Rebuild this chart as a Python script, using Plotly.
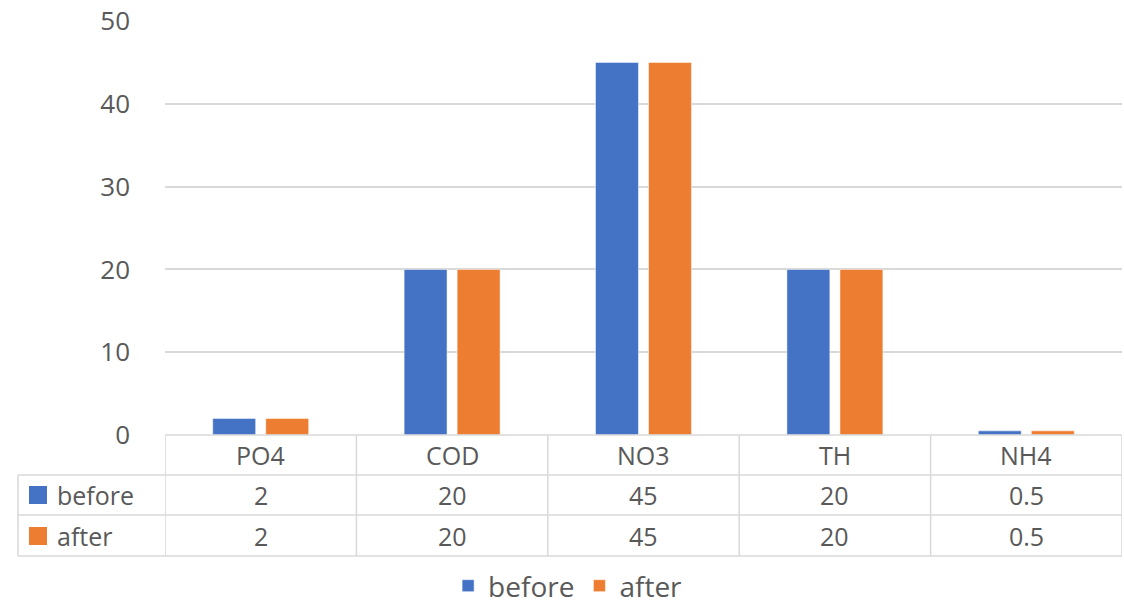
import plotly.graph_objects as go

categories = ["PO4", "COD", "NO3", "TH", "NH4"]
before = [2, 20, 45, 20, 0.5]
after = [2, 20, 45, 20, 0.5]
series_names = ["before", "after"]
y_ticks = [0, 10, 20, 30, 40, 50]

W, H = 1124, 606
L, R, T, B = 165, 1122, 21, 435  # plot area in pixels
BLUE = "#4472C4"
ORANGE = "#ED7D31"
TXT = "#595959"
GRID = "#D9D9D9"
FONT = "Open Sans"

def py(p):  # pixel y -> paper y
    return (B - p) / (B - T)

def px(p):  # pixel x -> paper x
    return (p - L) / (R - L)

fig = go.Figure()
fig.add_trace(go.Bar(x=categories, y=before, name=series_names[0],
                     marker=dict(color=BLUE, line=dict(color="white", width=0.5))))
fig.add_trace(go.Bar(x=categories, y=after, name=series_names[1],
                     marker=dict(color=ORANGE, line=dict(color="white", width=0.5))))

rows_y = [455, 495, 536]  # header, before, after centers (pixels)
row_lines = [475, 515, 556]

shapes = []
shapes.append(dict(type="line", xref="paper", yref="paper", x0=0, x1=1, y0=0, y1=0,
                   line=dict(color=GRID, width=1.5)))
for ry in row_lines:
    shapes.append(dict(type="line", xref="paper", yref="paper", x0=px(18), x1=1,
                       y0=py(ry), y1=py(ry), line=dict(color=GRID, width=1.5)))
n = len(categories)
for i in range(n + 1):
    shapes.append(dict(type="line", xref="x", yref="paper", x0=i - 0.5, x1=i - 0.5,
                       y0=0, y1=py(556), line=dict(color=GRID, width=1.5)))
shapes.append(dict(type="line", xref="paper", yref="paper", x0=px(18), x1=px(18),
                   y0=py(475), y1=py(556), line=dict(color=GRID, width=1.5)))
for ry, col in zip(rows_y[1:], [BLUE, ORANGE]):
    shapes.append(dict(type="rect", xref="paper", yref="paper", x0=px(29), x1=px(47),
                       y0=py(ry + 9), y1=py(ry - 9), fillcolor=col, line=dict(width=0)))

annotations = []
def ann(x, y, text, xref="x", xanchor="center"):
    annotations.append(dict(x=x, y=y, xref=xref, yref="paper", text=text,
                            xanchor=xanchor, yanchor="middle", showarrow=False,
                            font=dict(family=FONT, size=25, color=TXT)))

for i, c in enumerate(categories):
    ann(c, py(rows_y[0]), c)
    ann(c, py(rows_y[1]), str(before[i]))
    ann(c, py(rows_y[2]), str(after[i]))
for ry, nm in zip(rows_y[1:], series_names):
    ann(px(55), py(ry), nm, xref="paper", xanchor="left")

fig.update_layout(
    width=W, height=H,
    margin=dict(l=L, r=W - R, t=T, b=H - B, pad=0, autoexpand=False),
    paper_bgcolor="white", plot_bgcolor="white",
    barmode="group", bargap=0.446, bargroupgap=0.19,
    font=dict(family=FONT, color=TXT),
    xaxis=dict(showticklabels=False, showgrid=False, zeroline=False, showline=False,
               range=[-0.5, n - 0.5], fixedrange=True),
    yaxis=dict(range=[0, 50], tickvals=y_ticks, showgrid=True, gridcolor=GRID, gridwidth=1.5,
               zeroline=False, showline=False, ticks="", ticklabelstandoff=34,
               tickfont=dict(family=FONT, size=26, color=TXT), fixedrange=True),
    legend=dict(orientation="h", xref="container", yref="container", x=0.505, y=1 - 586 / H,
                xanchor="center", yanchor="middle", font=dict(family=FONT, size=28, color=TXT),
                itemwidth=30, traceorder="normal", tracegroupgap=0),
    shapes=shapes, annotations=annotations,
)

fig.write_html("out.html", config={"displayModeBar": False},
               post_script="document.body.style.margin='0';document.body.style.overflow='hidden';")
